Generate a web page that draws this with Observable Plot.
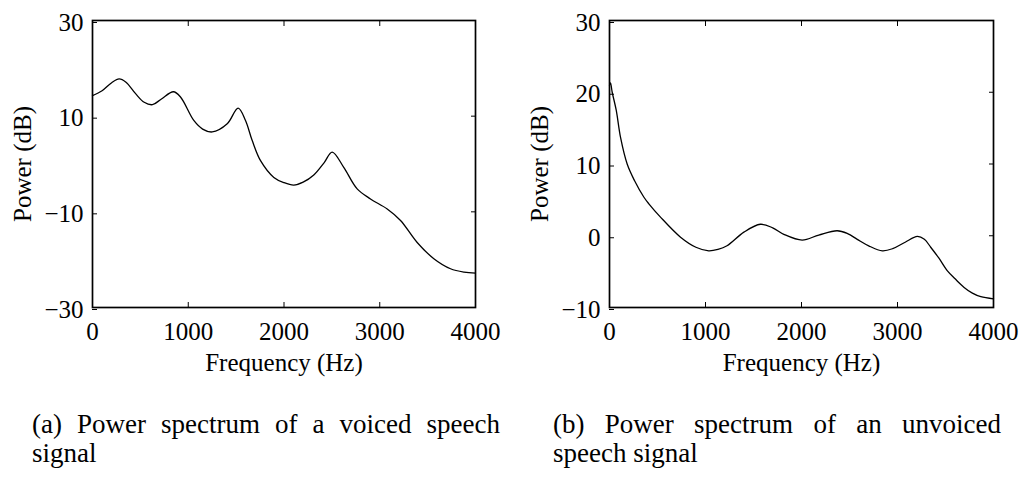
<!DOCTYPE html>
<html><head><meta charset="utf-8">
<script src="https://cdn.jsdelivr.net/npm/d3@7"></script>
<script src="https://cdn.jsdelivr.net/npm/@observablehq/plot@0.6"></script>
<style>
body{margin:0;background:#fff;}
#wrap{position:relative;width:1020px;height:479px;overflow:hidden;background:#fff;}
.panel{position:absolute;top:0;}
.cap{position:absolute;font-family:"Liberation Serif",serif;font-size:27px;line-height:29px;color:#000;}
.l1{text-align:justify;text-align-last:justify;white-space:nowrap;}
</style>
</head><body>
<div id="wrap">
  <div id="pa" class="panel" style="left:0px"></div>
  <div id="pb" class="panel" style="left:520px"></div>
  <div class="cap" style="left:32px;top:410px;width:468px"><div class="l1" id="ca1"></div><div id="ca2"></div></div>
  <div class="cap" style="left:553px;top:410px;width:448px"><div class="l1" id="cb1"></div><div id="cb2"></div></div>
</div>
<script>
const xTicks = [0, 1000, 2000, 3000, 4000];
const yTicksA = [-30, -10, 10, 30];
const yTicksB = [-10, 0, 10, 20, 30];
const xLabel = "Frequency (Hz)";
const yLabel = "Power (dB)";
const captionA = ["(a) Power spectrum of a voiced speech", "signal"];
const captionB = ["(b) Power spectrum of an unvoiced", "speech signal"];

const voicedFreq  = [0,100,200,278,350,450,540,626,720,845,919,1058,1150,1250,1407,1521,1598,1668,1755,1894,2000,2102,2200,2311,2420,2503,2624,2764,2903,3078,3217,3391,3565,3739,3880,4000];
const voicedPower = [14.3,15.3,17.0,17.8,17.1,14.7,12.9,12.4,13.6,15.1,14.0,9.1,7.3,6.7,8.4,11.7,9.1,4.9,0.7,-2.8,-3.9,-4.4,-3.8,-2.3,0.3,2.5,-0.7,-5.2,-7.3,-9.4,-11.8,-16.4,-19.8,-21.9,-22.6,-22.8];

const unvoicedFreq  = [0,10,28,70,115,184,260,357,410,531,740,900,1033,1130,1224,1400,1572,1700,1816,2007,2180,2372,2480,2581,2700,2842,2950,3080,3207,3280,3346,3430,3520,3600,3694,3780,3868,4000];
const unvoicedPower = [21.0,21.3,20.0,17.5,13.7,10.0,7.7,5.4,4.45,2.6,-0.2,-1.6,-2.1,-1.9,-1.4,0.5,1.6,1.1,0.2,-0.6,0.1,0.7,0.3,-0.5,-1.4,-2.1,-1.8,-0.9,-0.1,-0.5,-1.6,-3.1,-4.9,-6.0,-7.2,-8.0,-8.5,-8.8];

const voiced = voicedFreq.map((f, i) => ({f, p: voicedPower[i]}));
const unvoiced = unvoicedFreq.map((f, i) => ({f, p: unvoicedPower[i]}));
const FONT = "'Liberation Serif', 'Times New Roman', serif";

function panel(data, yDomain, yTicks, ml, mr, w) {
  const blank = () => "";
  return Plot.plot({
    width: w, height: 380,
    marginLeft: ml, marginRight: mr, marginTop: 20, marginBottom: 73,
    style: {fontFamily: FONT, fontSize: "25px", background: "white", color: "black", overflow: "visible"},
    x: {domain: [0, 4000]},
    y: {domain: yDomain},
    marks: [
      Plot.line(data, {x: "f", y: "p", curve: "catmull-rom", stroke: "black", strokeWidth: 1.3}),
      Plot.axisX(xTicks, {anchor: "bottom", tickSize: -5, tickPadding: 20, label: null, tickFormat: d => String(d), fontFamily: FONT}),
      Plot.axisX(xTicks, {anchor: "top", tickSize: -5, label: null, tickFormat: blank}),
      Plot.axisY(yTicks, {anchor: "left", tickSize: -5, tickPadding: 14, label: null, dy: 2, fontFamily: FONT}),
      Plot.axisY(yTicks, {anchor: "right", tickSize: -5, label: null, tickFormat: blank}),
      Plot.frame({stroke: "black", strokeWidth: 1.7}),
      Plot.text([yLabel], {frameAnchor: "left", dx: -70, rotate: -90, text: d => d, fontSize: 25, fontFamily: FONT, textAnchor: "middle", lineAnchor: "middle"}),
      Plot.text([xLabel], {frameAnchor: "bottom", dy: 55, text: d => d, fontSize: 25, fontFamily: FONT, textAnchor: "middle", lineAnchor: "middle"})
    ]
  });
}

document.getElementById("pa").append(panel(voiced, [-30, 30], yTicksA, 92, 30, 505));
document.getElementById("pb").append(panel(unvoiced, [-10, 30], yTicksB, 89, 27, 500));
document.getElementById("ca1").textContent = captionA[0];
document.getElementById("ca2").textContent = captionA[1];
document.getElementById("cb1").textContent = captionB[0];
document.getElementById("cb2").textContent = captionB[1];
</script>
</body></html>
